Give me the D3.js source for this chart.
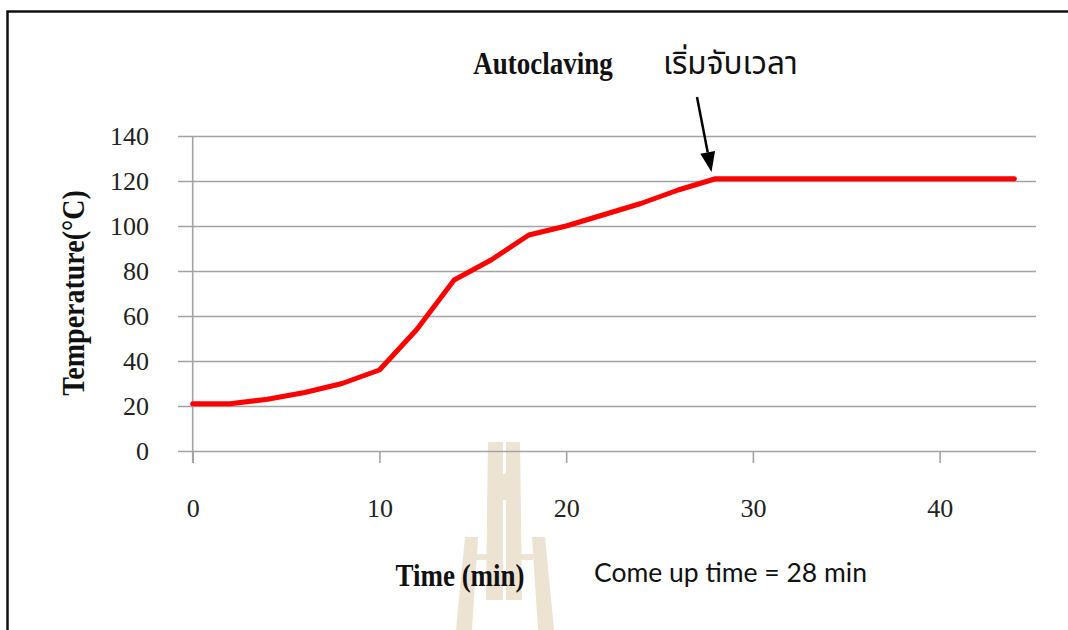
<!DOCTYPE html>
<html><head><meta charset="utf-8">
<script src="https://cdn.jsdelivr.net/npm/d3@7"></script>
<style>body{margin:0;background:#fff}svg{display:block}</style>
</head><body>
<svg id="c" width="1068" height="630"></svg>
<script>
// ---- data ----
const times = [0,2,4,6,8,10,12,14,16,18,20,22,24,26,28,30,32,34,36,38,40,42,44];
const temps = [21,21,23,26,30,36,54,76,85,96,100,105,110,116,121,121,121,121,121,121,121,121,121];
const xTicks = [0,10,20,30,40];
const yTicks = [0,20,40,60,80,100,120,140];
const titleText = "Autoclaving";
const noteThai = "เริ่มจับเวลา";
const xTitle = "Time (min)";
const yTitle = "Temperature(°C)";
const comeUp = "Come up time = 28 min";

const svg = d3.select("#c");
const x = d3.scaleLinear().domain([0,45]).range([192.7, 1033]);
const y = d3.scaleLinear().domain([0,140]).range([451, 136]);
const serif = "'Liberation Serif','Times New Roman',serif";

// frame
svg.append("path").attr("d","M7.5,630 V11.5 H1068").attr("fill","none").attr("stroke","#111").attr("stroke-width",2.5);

// watermark (faint logo)
const wm = svg.append("g").attr("fill","#ece3d2");
wm.append("polygon").attr("points","488,442 503,442 503,600 486,600");
wm.append("polygon").attr("points","506,442 520,442 522,600 506,600");
wm.append("rect").attr("x",500).attr("y",474).attr("width",10).attr("height",26);
wm.append("polygon").attr("points","465,537 478,537 472,630 456,630");
wm.append("polygon").attr("points","532,537 545,537 554,630 538,630");
wm.append("rect").attr("x",476).attr("y",554).attr("width",12).attr("height",6);
wm.append("rect").attr("x",521).attr("y",554).attr("width",12).attr("height",6);

// y grid + labels
const yAxis = d3.axisLeft(y).tickValues(yTicks).tickSize(-(1036-178)).tickSizeOuter(0).tickPadding(29);
const gy = svg.append("g").attr("transform","translate(178,0)").call(yAxis);
gy.select(".domain").remove();
gy.selectAll(".tick line").attr("stroke","#a3a3a3").attr("stroke-width",1.6);
gy.selectAll(".tick text").attr("font-family",serif).attr("font-size",26).attr("fill","#222");

// x ticks + labels
const xAxis = d3.axisBottom(x).tickValues(xTicks).tickSize(12).tickSizeOuter(0).tickPadding(36);
const gx = svg.append("g").attr("transform","translate(0,451)").call(xAxis);
gx.select(".domain").remove();
gx.selectAll(".tick line").attr("stroke","#a3a3a3").attr("stroke-width",1.6);
gx.selectAll(".tick text").attr("font-family",serif).attr("font-size",26).attr("fill","#222");

// vertical axis line
svg.append("line").attr("x1",x(0)).attr("x2",x(0)).attr("y1",y(140)).attr("y2",463)
  .attr("stroke","#a3a3a3").attr("stroke-width",1.6);

// series
const line = d3.line().x((d,i)=>x(times[i])).y(d=>y(d));
svg.append("path").datum(temps).attr("d",line).attr("fill","none")
  .attr("stroke","#ff0000").attr("stroke-width",5).attr("stroke-linejoin","round").attr("stroke-linecap","round");

// titles
svg.append("text").attr("transform","translate(543,74) scale(1,1.15)").attr("text-anchor","middle")
  .attr("font-family",serif).attr("font-weight","bold").attr("font-size",27).attr("fill","#111").text(titleText);
svg.append("text").attr("x",663).attr("y",74)
  .attr("font-family","'Noto Sans Thai','Noto Sans Thai UI','Tahoma','DejaVu Sans',sans-serif").attr("font-size",31.5).attr("fill","#111").text(noteThai);
svg.append("text").attr("transform","translate(84,293) rotate(-90) scale(1,1.12)").attr("text-anchor","middle")
  .attr("font-family",serif).attr("font-weight","bold").attr("font-size",28).attr("fill","#111").text(yTitle);
svg.append("text").attr("transform","translate(460,586) scale(1,1.15)").attr("text-anchor","middle")
  .attr("font-family",serif).attr("font-weight","bold").attr("font-size",27).attr("fill","#111").text(xTitle);
svg.append("text").attr("x",594).attr("y",582)
  .attr("font-family","Lato,'Open Sans',sans-serif").attr("font-size",26.5).attr("fill","#111").text(comeUp);

// arrow
const ax1=697, ay1=97, ax2=711.5, ay2=172;
const ang = Math.atan2(ay2-ay1, ax2-ax1);
const hl=20, hw=7.5;
const bx = ax2 - hl*Math.cos(ang), by = ay2 - hl*Math.sin(ang);
svg.append("line").attr("x1",ax1).attr("y1",ay1).attr("x2",bx).attr("y2",by).attr("stroke","#000").attr("stroke-width",2.5);
svg.append("polygon").attr("points",[
  [ax2,ay2],
  [bx + hw*Math.sin(ang), by - hw*Math.cos(ang)],
  [bx - hw*Math.sin(ang), by + hw*Math.cos(ang)]
].map(p=>p.join(",")).join(" ")).attr("fill","#000");
</script>
</body></html>
